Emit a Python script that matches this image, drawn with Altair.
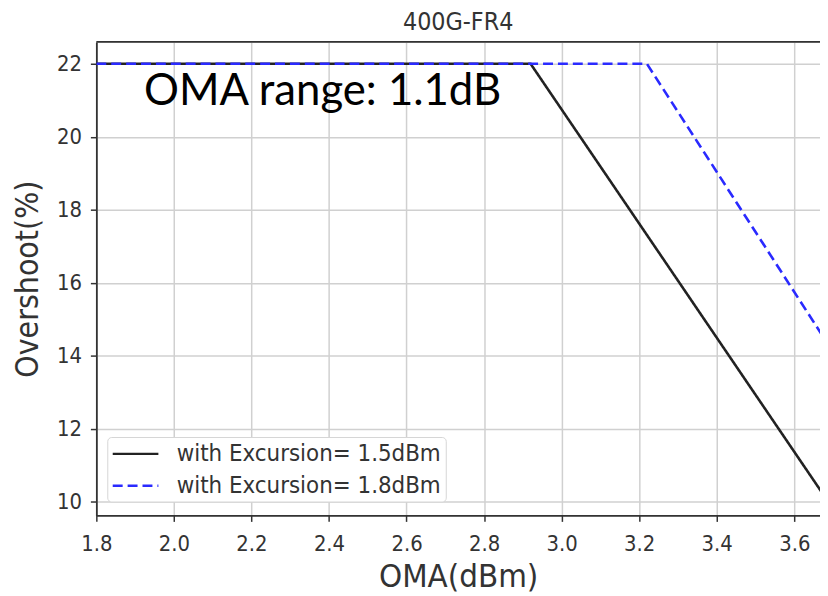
import altair as alt
import pandas as pd

series_names = ["with Excursion= 1.5dBm", "with Excursion= 1.8dBm"]
black_x = [1.8, 2.92, 3.7]
black_y = [22.0, 22.0, 9.8]
blue_x = [1.8, 3.22, 3.7]
blue_y = [22.0, 22.0, 14.1]
x_ticks = [1.8, 2.0, 2.2, 2.4, 2.6, 2.8, 3.0, 3.2, 3.4, 3.6]
y_ticks = [10, 12, 14, 16, 18, 20, 22]
note_text = ["OMA range: 1.1dB"]
note_x = [1.923]
note_y = [20.88]

rows = []
for xv, yv in zip(black_x, black_y):
    rows.append({"x": xv, "y": yv, "series": series_names[0], "o": len(rows)})
for xv, yv in zip(blue_x, blue_y):
    rows.append({"x": xv, "y": yv, "series": series_names[1], "o": len(rows)})
df = pd.DataFrame(rows)
note_df = pd.DataFrame({"t": note_text, "x": note_x, "y": note_y})

FONT = "DejaVu Sans Condensed, DejaVu Sans"
W, H = 729, 477
xscale = alt.Scale(domain=[1.8, 1.8 + W / 390.6], nice=False, zero=False)
yscale = alt.Scale(domain=[9.62, 22.6], nice=False, zero=False)

xaxis = alt.Axis(values=x_ticks, format=".1f", title="OMA(dBm)", grid=True,
                 labelFont=FONT, labelFontSize=22, labelColor="#333",
                 titleFont=FONT, titleFontSize=33, titleColor="#333", titleFontWeight="normal",
                 titlePadding=7, labelPadding=12, tickSize=6, tickWidth=1.5, tickColor="#333",
                 domainColor="#333", domainWidth=1.8, gridColor="#d0d0d0", gridWidth=1.5,
                 labelFlush=False)
yaxis = alt.Axis(values=y_ticks, title="Overshoot(%)", grid=True,
                 labelFont=FONT, labelFontSize=22, labelColor="#333",
                 titleFont=FONT, titleFontSize=32, titleColor="#333", titleFontWeight="normal",
                 titlePadding=12, labelPadding=9, tickSize=6, tickWidth=1.5, tickColor="#333",
                 domainColor="#333", domainWidth=1.8, gridColor="#d0d0d0", gridWidth=1.5,
                 labelFlush=False)

legend = alt.Legend(orient="none", legendX=11, legendY=398, title=None,
                    symbolType="M-1,0L3,0", symbolSize=529, symbolStrokeWidth=2.5,
                    labelFont=FONT, labelFontSize=24, labelColor="#333", labelOffset=40,
                    padding=4, rowPadding=7, fillColor="white", strokeColor="#d6d6d6",
                    cornerRadius=4, labelLimit=400)

lines = alt.Chart(df).mark_line(strokeWidth=2.6, clip=True).encode(
    x=alt.X("x:Q", scale=xscale, axis=xaxis),
    y=alt.Y("y:Q", scale=yscale, axis=yaxis),
    color=alt.Color("series:N", scale=alt.Scale(domain=series_names, range=["#222222", "#2a2aff"]), legend=legend),
    strokeDash=alt.StrokeDash("series:N", scale=alt.Scale(domain=series_names, range=[[1, 0], [10, 5]]), legend=legend),
    order="o:Q",
)

note = alt.Chart(note_df).mark_text(font="Lato", fontSize=44, color="black", align="left", baseline="alphabetic").encode(
    x=alt.X("x:Q", scale=xscale), y=alt.Y("y:Q", scale=yscale), text="t:N")

border = alt.Chart(note_df).mark_rule(color="#333", strokeWidth=1.8).encode(
    x=alt.value(0), x2=alt.value(W), y=alt.value(0))

chart = alt.layer(lines, note, border).properties(
    width=W, height=H,
    title=alt.TitleParams("400G-FR4", font=FONT, fontSize=25, color="#333", fontWeight="normal", offset=6),
    autosize=alt.AutoSizeParams(type="none"),
    padding={"left": 89, "top": 32, "right": 0, "bottom": 78},
).configure_view(stroke=None).configure(background="white")

chart.save("out.html", embed_options={"renderer": "svg", "actions": False})
